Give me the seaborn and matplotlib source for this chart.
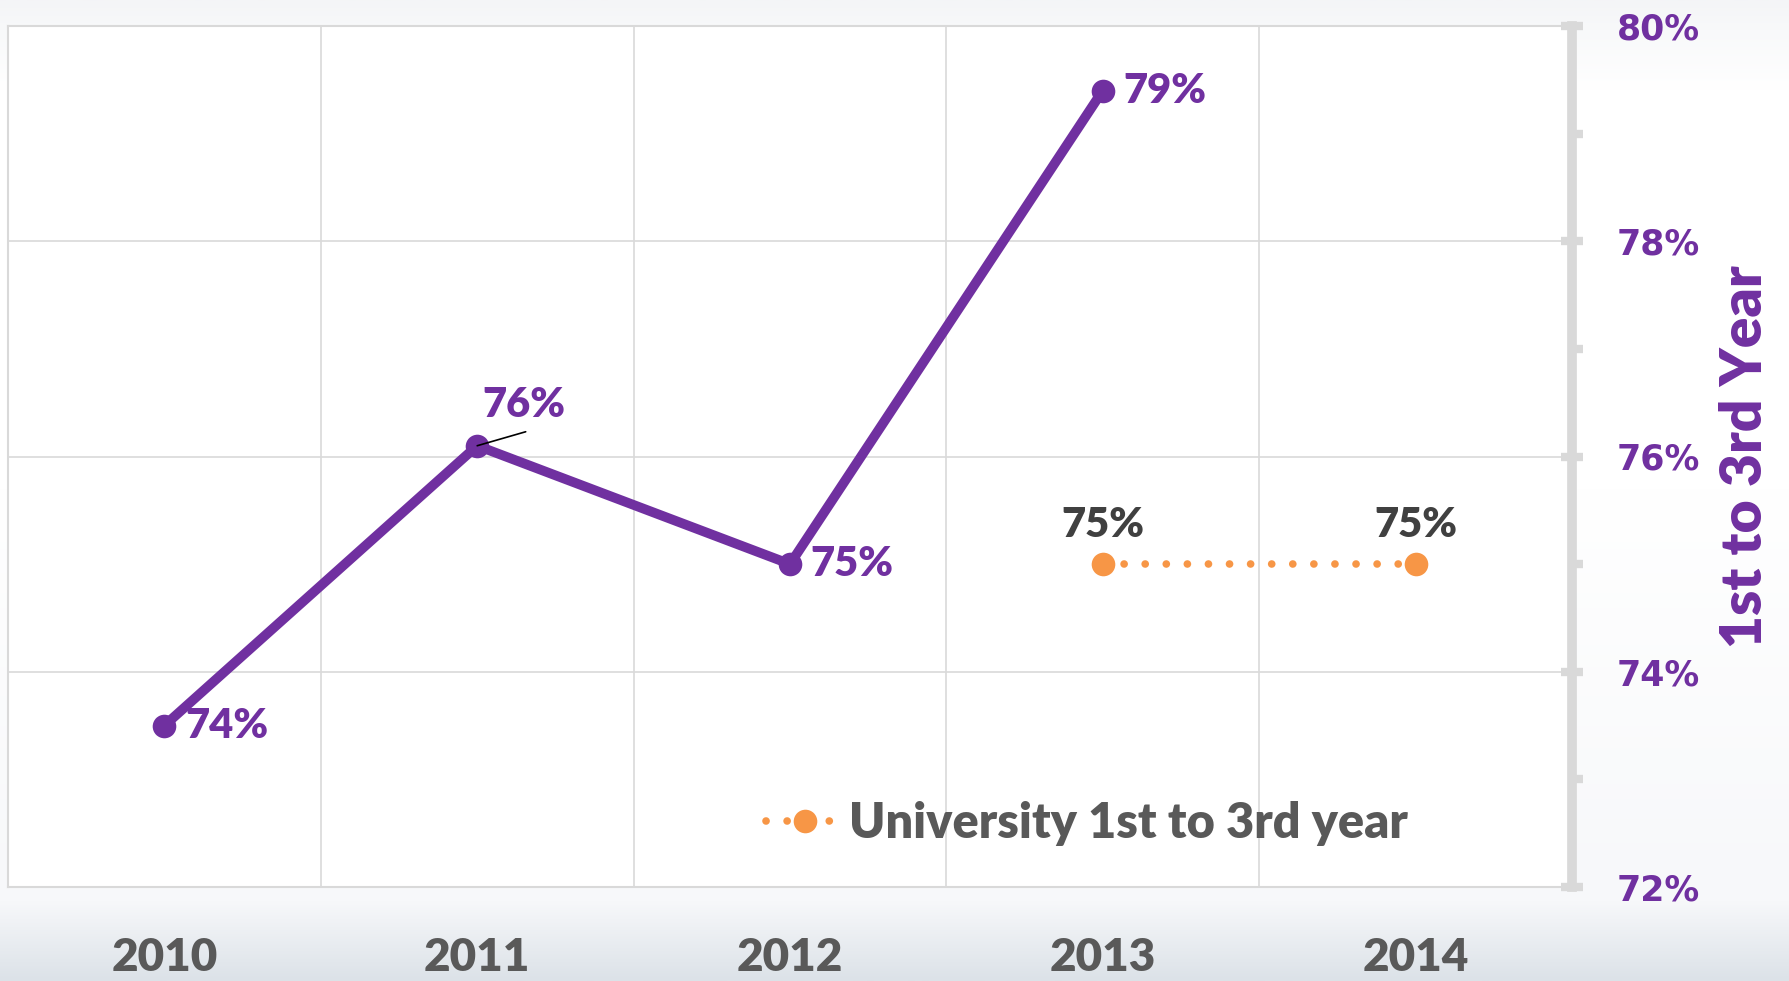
import numpy as np
import pandas as pd
import matplotlib
matplotlib.use("Agg")
import matplotlib.pyplot as plt
import matplotlib.colors as mcolors
from matplotlib.ticker import MultipleLocator, FuncFormatter
import seaborn as sns

# Datos
years = ["2010", "2011", "2012", "2013", "2014"]
program_rate = [73.5, 76.1, 75.0, 79.4, np.nan]
university_rate = [np.nan, np.nan, np.nan, 75.0, 75.0]
program_labels = ["74%", "76%", "75%", "79%", ""]
university_labels = ["", "", "", "75%", "75%"]
legend_label = "University 1st to 3rd year"
axis_title = "1st to 3rd Year"

purple = "#7030A0"
orange = "#F79646"
grid_c = "#D9D9D9"
text_grey = "#595959"
W = "heavy"

df = pd.DataFrame({"pos": np.arange(len(years)), "year": years,
                   "program": program_rate, "university": university_rate})

sns.set_style("white")
plt.rcParams["font.family"] = ["Lato", "DejaVu Sans"]

fig = plt.figure(figsize=(17.9, 9.81), dpi=100)

# fondo degradado
bg = fig.add_axes([0, 0, 1, 1], zorder=-10)
rows = np.linspace(0, 1, 400)
stops = [0.0, 0.03, 0.09, 0.5, 0.92, 1.0]
cols = ["#f4f5f7", "#f8f9fa", "#ffffff", "#ffffff", "#f7f8fa", "#dce2e8"]
rgb = np.array([mcolors.to_rgb(c) for c in cols])
grad = np.stack([np.interp(rows, stops, rgb[:, i]) for i in range(3)], axis=1)
bg.imshow(grad[:, None, :], aspect="auto", extent=[0, 1, 1, 0])
bg.axis("off")

ax = fig.add_axes([8 / 1790, 94 / 981, 1564 / 1790, 861 / 981])
ax.set_facecolor("white")

sns.lineplot(data=df, x="pos", y="program", ax=ax, color=purple, linewidth=7,
             marker="o", markersize=17, markeredgewidth=0, zorder=4)
sns.lineplot(data=df, x="pos", y="university", ax=ax, color=orange, linewidth=5.5,
             linestyle=(0, (0.01, 2.75)), dash_capstyle="round",
             marker="o", markersize=17, markeredgewidth=0, zorder=4,
             label=legend_label)

ax.set_xlim(-0.5, 4.5)
ax.set_ylim(72, 80)

# rejilla
for xb in np.arange(-0.5, 4.6, 1):
    ax.axvline(xb, color=grid_c, lw=1.2, zorder=1)
for yv in [74, 76, 78, 80]:
    ax.axhline(yv, color=grid_c, lw=1.2, zorder=1)

# eje derecho
ax.yaxis.tick_right()
ax.yaxis.set_label_position("right")
ax.yaxis.set_major_locator(MultipleLocator(2))
ax.yaxis.set_minor_locator(MultipleLocator(1))
ax.yaxis.set_major_formatter(FuncFormatter(lambda v, p: f"{v:.0f}%"))
ax.tick_params(axis="y", which="major", right=True, direction="inout", length=16,
               width=6, color=grid_c, pad=24, labelcolor=purple, labelsize=25)
ax.tick_params(axis="y", which="minor", right=True, direction="out", length=8,
               width=6, color=grid_c)
for lab in ax.get_yticklabels():
    lab.set_fontfamily("DejaVu Sans")
    lab.set_fontweight("bold")
ax.set_ylabel(axis_title, color=purple, fontsize=41, fontweight=W,
              rotation=90, labelpad=14)

ax.set_xticks(df["pos"])
ax.set_xticklabels(years)
ax.tick_params(axis="x", length=0, pad=36, labelsize=33, labelcolor=text_grey)
for lab in ax.get_xticklabels():
    lab.set_fontweight(W)
ax.set_xlabel("")

for side in ["left", "top", "bottom"]:
    ax.spines[side].set_color(grid_c)
    ax.spines[side].set_linewidth(1.5)
ax.spines["right"].set_color(grid_c)
ax.spines["right"].set_linewidth(7)

# etiquetas de datos
for i, (v, t) in enumerate(zip(program_rate, program_labels)):
    if not t:
        continue
    if i == 1:
        ax.annotate(t, xy=(i, v), xytext=(i + 0.15, v + 0.38), ha="center",
                    va="center", color=purple, fontsize=30, fontweight=W, zorder=5)
        ax.annotate("", xy=(i, v), xytext=(i + 0.155, v + 0.13),
                    arrowprops=dict(arrowstyle="-", color="black", lw=1.2,
                                    shrinkA=0, shrinkB=0), zorder=5)
    else:
        ax.annotate(t, xy=(i, v), xytext=(15, 0), textcoords="offset points",
                    ha="left", va="center", color=purple, fontsize=30,
                    fontweight=W, zorder=5)
for i, (v, t) in enumerate(zip(university_rate, university_labels)):
    if t:
        ax.annotate(t, xy=(i, v), xytext=(0, 28), textcoords="offset points",
                    ha="center", va="center", color="#404040", fontsize=30,
                    fontweight=W, zorder=5)

leg = ax.legend(loc="center left", bbox_to_anchor=(0.457, 0.074), frameon=False,
                fontsize=35, handlelength=1.6, handletextpad=0.1)
for txt in leg.get_texts():
    txt.set_color(text_grey)
    txt.set_fontweight(W)

fig.savefig("out.png", dpi=100)
